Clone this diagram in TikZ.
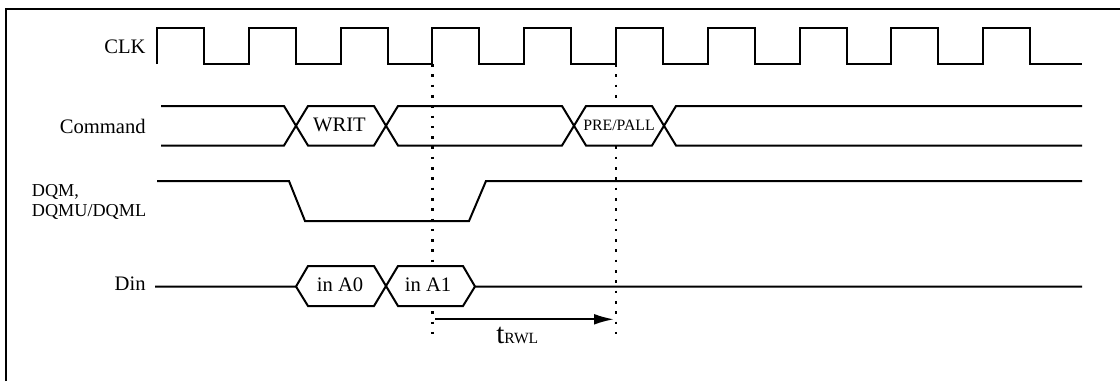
\documentclass[tikz,border=0pt]{standalone}
\usepackage{fontspec}
\setmainfont{Liberation Serif}
\usetikzlibrary{arrows.meta,
                positioning}
\tikzset{wave/.style =
   {draw,
    line width=1pt,
    line join=miter}}
\tikzset{marker/.style =
   {draw,
    line width=1.25pt,
    dash pattern=on 1.3pt off 3.85pt}}
\tikzset{bus-fill/.style =
   {fill=white}}
\tikzset{signal-name/.style =
   {anchor=base east,
    inner sep=0pt,
    font=\fontsize{10.3}{12}\selectfont}}
\tikzset{mask-name/.style =
   {anchor=base west,
    inner sep=0pt,
    font=\fontsize{9.1}{11}\selectfont}}
\tikzset{bus-value/.style =
   {anchor=base,
    inner sep=0pt,
    font=\fontsize{10.3}{12}\selectfont}}
\tikzset{arrow/.style = {draw, line width=1pt, -{Latex[length=10pt,width=5.4pt]}}}

\begin{document}
\begin{tikzpicture}[x=0.5pt, y=-0.5pt]

    \useasboundingbox (0,0) rectangle (1120,381);

    \draw [line width=1pt] (5.5,381) -- (5.5,8.5) -- (1120,8.5);

    \coordinate (write-top) at (432.4,64);
    \coordinate (write-bot) at (432.4,336);
    \coordinate (pre-top) at (615.8,64);
    \coordinate (pre-bot) at (615.8,336);
    \draw [marker] (write-top) -- (write-bot);
    \draw [marker] (pre-top) -- (pre-bot);

    \node [signal-name] (clk) at (146,53.3) {CLK};
    \node [signal-name] (cmd) at (146,133.3) {Command};
    \node [mask-name] (dqm) at (31.5,196) {DQM,};
    \node [mask-name] (dqmul) at (31.5,216.7) {DQMU/DQML};
    \node [signal-name] (din) at (146,290.7) {Din};

    \draw [wave] (157,64)
        \foreach \k in {0,...,9} {-- ++(0,-36) -- ++(47,0) -- ++(0,36) -- ++(44.8,0)}
        -- (1082,64);

    \fill [bus-fill] (574,125.75) -- (586,106) -- (652,106) -- (664,125.75)
        -- (652,145.5) -- (586,145.5) -- cycle;
    \draw [wave] (161,106) -- (284,106) -- (308,145.5) -- (374,145.5) -- (398,106)
        -- (562,106) -- (586,145.5) -- (652,145.5) -- (676,106) -- (1082,106);
    \draw [wave] (161,145.5) -- (284,145.5) -- (308,106) -- (374,106) -- (398,145.5)
        -- (562,145.5) -- (586,106) -- (652,106) -- (676,145.5) -- (1082,145.5);
    \node [bus-value] (writ) at (339.5,131.7) {WRIT};
    \node [bus-value,
           font=\fontsize{7.9}{9}\selectfont] (pre) at (619,130.7) {PRE/PALL};

    \draw [wave] (157,181) -- (289,181) -- (305,221) -- (469,221) -- (486,181) -- (1082,181);

    \fill [bus-fill] (296,286.5) -- (308,266) -- (463,266) -- (475,286.5)
        -- (463,306) -- (308,306) -- cycle;
    \draw [wave] (155,286.5) -- (296,286.5) -- (308,266) -- (374,266) -- (398,306)
        -- (463,306) -- (475,286.5) -- (1082,286.5);
    \draw [wave] (296,286.5) -- (308,306) -- (374,306) -- (398,266) -- (463,266) -- (475,286.5);
    \node [bus-value] (a0) at (340,291.7) {in A0};
    \node [bus-value] (a1) at (428,291.7) {in A1};

    \coordinate (twl-start) at (435,319.3);
    \coordinate (twl-end) at (614,319.3);
    \draw [arrow] (twl-start) -- (twl-end);
    \node [anchor=base west,
           inner sep=0pt] (trwl) at (496,343)
          {{\fontsize{14.5}{15}\selectfont t}{\fontsize{7.8}{9}\selectfont RWL}};

\end{tikzpicture}
\end{document}
